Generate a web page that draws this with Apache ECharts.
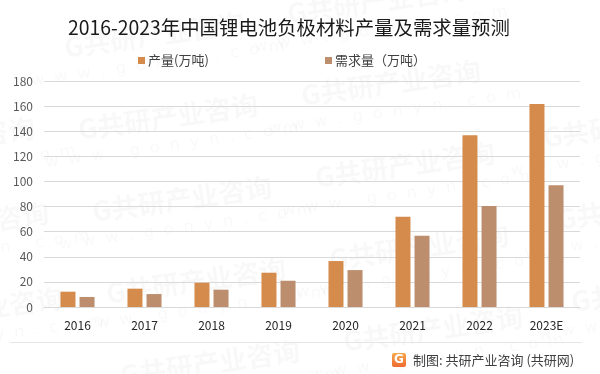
<!DOCTYPE html>
<html>
<head>
<meta charset="utf-8">
<script src="https://cdn.jsdelivr.net/npm/echarts@6/dist/echarts.min.js"></script>
<style>
html,body{margin:0;padding:0;background:#fff;}
#c{width:600px;height:374px;}
</style>
</head>
<body>
<div id="c"></div>
<script>
var categories = ['2016','2017','2018','2019','2020','2021','2022','2023E'];
var production = [12.2, 14.6, 19.3, 27.3, 36.6, 71.8, 136.8, 161.7];
var demand = [8.0, 10.3, 13.8, 20.9, 29.4, 56.7, 80.4, 97.0];
var seriesNames = ['产量(万吨)', '需求量（万吨）'];
var yTicks = {min: 0, max: 180, interval: 20};

var chart = echarts.init(document.getElementById('c'));
var font = '"Noto Sans CJK SC", "Noto Sans", sans-serif';

// faint tiled watermark (decoration)
var wmPos = [[154,35],[168,117],[182,199],[196,281],[210,363],
             [377,1],[391,83],[405,165],[419,247],[433,329],
             [633,125],[647,207],[661,289],
             [-55,140],[-41,225],[-27,310]];
var wmColor = 'rgba(0,0,0,0.028)';
var wm = wmPos.map(function(p){
  return {
    type: 'group', x: p[0], y: p[1], rotation: 8 * Math.PI / 180, z: 100, silent: true,
    children: [
      {type: 'text', x: 0, y: 0, style: {text: 'G共研产业咨询', fill: wmColor, font: 'bold 27px "Noto Sans CJK SC", sans-serif', align: 'center', verticalAlign: 'middle'}},
      {type: 'text', x: 0, y: 29, style: {text: 'w  w  w  .  g  o  n  y  n  .  c  o  m', fill: wmColor, font: '16px "DejaVu Sans", sans-serif', align: 'center', verticalAlign: 'middle'}}
    ]
  };
});

chart.setOption({
  animation: false,
  backgroundColor: '#fff',
  textStyle: {fontFamily: font},
  title: {
    text: '2016-2023年中国锂电池负极材料产量及需求量预测',
    left: 63,
    top: 13,
    textStyle: {fontSize: 19.4, fontWeight: 'normal', color: '#1a1a1a', fontFamily: font}
  },
  legend: [
    {data: [seriesNames[0]], left: 138, top: 54, padding: 0, itemWidth: 7, itemHeight: 7, itemGap: 3,
     textStyle: {fontSize: 13, color: '#404040', padding: [0,0,0,-2]}, icon: 'rect'},
    {data: [seriesNames[1]], left: 325, top: 54, padding: 0, itemWidth: 7, itemHeight: 7, itemGap: 3,
     textStyle: {fontSize: 13, color: '#404040', padding: [0,0,0,-2]}, icon: 'rect'}
  ],
  grid: {left: 44, right: 20, top: 81, bottom: 67, containLabel: false},
  xAxis: {
    type: 'category',
    data: categories,
    axisLine: {show: true, lineStyle: {color: '#d9d9d9', width: 1}},
    axisTick: {show: false},
    axisLabel: {fontSize: 12, color: '#262626', margin: 12}
  },
  yAxis: {
    type: 'value',
    min: yTicks.min, max: yTicks.max, interval: yTicks.interval,
    axisLine: {show: false},
    axisTick: {show: false},
    splitLine: {lineStyle: {color: '#d9d9d9', width: 1}},
    axisLabel: {fontSize: 12, color: '#595959', margin: 11}
  },
  series: [
    {name: seriesNames[0], type: 'bar', data: production, barWidth: 15, barGap: '27%',
     itemStyle: {color: '#D58B4C'}},
    {name: seriesNames[1], type: 'bar', data: demand, barWidth: 15,
     itemStyle: {color: '#BC8E6D'}}
  ],
  graphic: wm.concat([
    {type: 'line', shape: {x1: 10, y1: 342.5, x2: 582, y2: 342.5}, style: {stroke: '#e6e6e6', lineWidth: 1}},
    {type: 'rect', shape: {x: 392, y: 353, width: 14, height: 14, r: 2},
     style: {fill: new echarts.graphic.LinearGradient(0, 0, 0, 1, [{offset: 0, color: '#F7A94E'}, {offset: 1, color: '#EE6B2F'}])}},
    {type: 'text', x: 399, y: 360, style: {text: 'G', fill: '#fff', font: 'bold 12px "DejaVu Sans", sans-serif', align: 'center', verticalAlign: 'middle'}},
    {type: 'text', x: 413, y: 360, style: {text: '制图: 共研产业咨询 (共研网)', fill: '#404040', font: '13px "Noto Sans CJK SC", sans-serif', verticalAlign: 'middle'}}
  ])
});
</script>
</body>
</html>
